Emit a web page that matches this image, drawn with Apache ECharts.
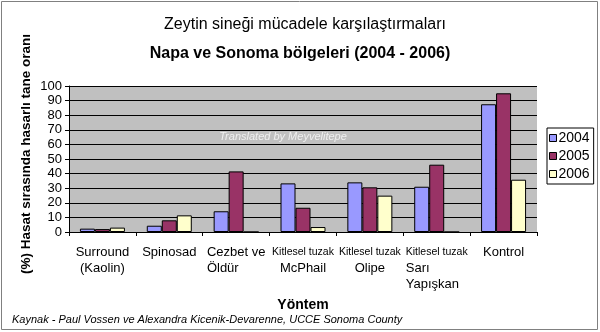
<!DOCTYPE html>
<html>
<head>
<meta charset="utf-8">
<script src="https://cdn.jsdelivr.net/npm/echarts@6/dist/echarts.min.js"></script>
<style>
  html, body { margin: 0; padding: 0; background: #fff; }
  #chart { width: 600px; height: 332px; }
</style>
</head>
<body>
<div id="chart"></div>
<script>
// Olive fly control methods and damaged-fruit share per year
const categories = [
  'Surround\n(Kaolin)',
  'Spinosad',
  'Cezbet ve\nÖldür',
  'Kitlesel tuzak\nMcPhail',
  'Kitlesel tuzak\nOlipe',
  'Kitlesel tuzak\nSarı\nYapışkan',
  'Kontrol'
];
const years = ['2004', '2005', '2006'];
const values2004 = [2.3, 4.3, 14.2, 33.3, 34, 31, 87.5];
const values2005 = [2, 8, 41.5, 16.6, 30.6, 46.1, 95];
const values2006 = [3, 11.4, 0, 3.4, 24.9, 0, 35.8];
const yTicks = [0, 10, 20, 30, 40, 50, 60, 70, 80, 90, 100];

const colors = ['#9999FF', '#993366', '#FFFFCC'];
const seriesValues = [values2004, values2005, values2006];

// Category label formatter: small "Kitlesel tuzak" line, larger remaining lines
function formatCategory(value) {
  const lines = value.split('\n');
  const leftAligned = value.indexOf('Cezbet') === 0 || value.indexOf('Sarı') >= 0;
  return lines.map(function (line) {
    if (line === 'Kitlesel tuzak') return '{small|' + line + '}';
    return leftAligned ? '{left|' + line + '}' : '{big|' + line + '}';
  }).join('\n');
}

const chart = echarts.init(document.getElementById('chart'), null, { renderer: 'canvas' });

chart.setOption({
  animation: false,
  backgroundColor: '#ffffff',
  title: [
    {
      text: 'Zeytin sineği mücadele karşılaştırmaları',
      left: 300, top: 12, textAlign: 'center',
      textStyle: { fontFamily: 'Liberation Sans, Arial', fontSize: 16, fontWeight: 'normal', color: '#000' }
    },
    {
      text: 'Napa ve Sonoma bölgeleri (2004 - 2006)',
      left: 295, top: 41, textAlign: 'center',
      textStyle: { fontFamily: 'Liberation Sans, Arial', fontSize: 16, fontWeight: 'bold', color: '#000' }
    }
  ],
  legend: {
    orient: 'vertical',
    left: 547, top: 128,
    data: years,
    icon: 'rect',
    itemWidth: 7, itemHeight: 7, itemGap: 4,
    padding: [3, 4, 3, 2],
    borderColor: '#000', borderWidth: 1,
    backgroundColor: '#fff',
    itemStyle: { borderColor: '#000', borderWidth: 1 },
    textStyle: { fontFamily: 'Liberation Sans, Arial', fontSize: 14, color: '#000', padding: [0, 0, 0, -3] }
  },
  grid: {
    left: 69, right: 63, top: 86, bottom: 100,
    show: true, backgroundColor: '#C0C0C0', borderWidth: 0
  },
  xAxis: {
    type: 'category',
    data: categories,
    axisLine: { lineStyle: { color: '#000', width: 1 } },
    axisTick: { show: true, length: 4, lineStyle: { color: '#000' } },
    axisLabel: {
      interval: 0, margin: 12, color: '#000',
      fontFamily: 'Liberation Sans, Arial',
      formatter: formatCategory,
      rich: {
        small: { fontSize: 10.5, lineHeight: 16, fontFamily: 'Liberation Sans, Arial', color: '#000' },
        big: { fontSize: 13, lineHeight: 16, fontFamily: 'Liberation Sans, Arial', color: '#000' },
        left: { fontSize: 13, lineHeight: 16, fontFamily: 'Liberation Sans, Arial', color: '#000', align: 'left' }
      }
    },
    name: 'Yöntem',
    nameLocation: 'middle',
    nameGap: 66,
    nameTextStyle: { fontFamily: 'Liberation Sans, Arial', fontSize: 14, fontWeight: 'bold', color: '#000' }
  },
  yAxis: {
    type: 'value',
    min: yTicks[0], max: yTicks[yTicks.length - 1], interval: yTicks[1] - yTicks[0],
    axisLine: { show: true, lineStyle: { color: '#000', width: 1 } },
    axisTick: { show: true, length: 4, lineStyle: { color: '#000' } },
    axisLabel: { margin: 7, fontFamily: 'Liberation Sans, Arial', fontSize: 13, color: '#000' },
    splitLine: { show: true, lineStyle: { color: '#000', width: 1 } }
  },
  series: years.map(function (y, i) {
    return {
      name: y,
      type: 'bar',
      data: seriesValues[i],
      barWidth: 15,
      barGap: '0%',
      itemStyle: { color: colors[i], borderColor: '#000', borderWidth: 1 }
    };
  }),
  graphic: [
    {
      type: 'rect', silent: true, z: -1,
      shape: { x: 1.5, y: 1.5, width: 596, height: 328 },
      style: { fill: 'none', stroke: '#808080', lineWidth: 1 }
    },
    {
      type: 'text', silent: true, z: 100,
      x: 26, y: 154, rotation: Math.PI / 2,
      style: {
        text: '(%) Hasat sırasında hasarlı tane oranı',
        fontFamily: 'Liberation Sans, Arial', fontSize: 13.5, fontWeight: 'bold', fill: '#000',
        align: 'center', verticalAlign: 'middle'
      }
    },
    {
      type: 'text', silent: true, z: 100,
      x: 283, y: 137,
      style: {
        text: 'Translated by Meyvelitepe',
        fontFamily: 'Liberation Sans, Arial', fontSize: 11, fontStyle: 'italic',
        fill: 'rgba(255,255,255,0.75)', align: 'center', verticalAlign: 'middle'
      }
    },
    {
      type: 'text', silent: true, z: 100,
      x: 12, y: 320,
      style: {
        text: 'Kaynak - Paul Vossen ve Alexandra Kicenik-Devarenne, UCCE Sonoma County',
        fontFamily: 'Liberation Sans, Arial', fontSize: 11, fontStyle: 'italic', fill: '#000',
        align: 'left', verticalAlign: 'middle'
      }
    }
  ]
});
</script>
</body>
</html>
